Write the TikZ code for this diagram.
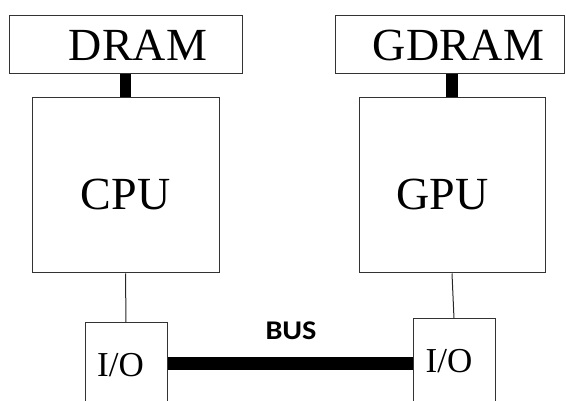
\documentclass[tikz,border=0pt]{standalone}
\usepackage{fontspec}
\setmainfont{Liberation Serif}
\newfontfamily\busfont{Carlito}
\usepackage{tikz}

\begin{document}
\begin{tikzpicture}[x=1pt,y=-1pt,
		box/.style={draw=black!80,line width=1pt,inner sep=0pt},
		membox/.style={box,minimum width=233pt,minimum height=58pt,font=\fontsize{46}{46}\selectfont},
		procbox/.style={box,minimum width=187pt,minimum height=175pt,text height=49pt,text depth=0pt,font=\fontsize{46}{46}\selectfont},
		iobox/.style={box,minimum width=82pt,minimum height=90pt,text height=17pt,text depth=0pt,font=\fontsize{35}{35}\selectfont},
		thin link/.style={draw=black!85,line width=1pt},
		thick link/.style={draw=black,line width=11pt}]
		\clip (0,0) rectangle (566,401);
		
		\node[membox] (dram) at (125.5,45){\hspace*{25pt}DRAM};
		\node[membox,minimum width=229pt] (gdram) at (449.5,45){\hspace*{18pt}GDRAM};
		
		\node[procbox] (cpu) at (125.5,185.5){CPU};
		\node[procbox,minimum width=186pt] (gpu) at (452,185.5){GPU\hspace*{19pt}};
		
		\node[iobox] (lio) at (126,368){I/O\hspace*{11pt}};
		\node[iobox] (rio) at (454,364){I/O\hspace*{10pt}};
		
		\draw[thick link] (dram.south) -- (cpu.north);
		\draw[thick link,line width=12pt] (gpu.north) -- (gpu.north |- gdram.south);
		
		\draw[thin link] (cpu.south) -- (lio.north);
		\draw[thin link] (gpu.south) -- (rio.north);
		
		\draw[thick link,line width=13pt] (lio.east |- 0,363.5) -- (rio.west |- 0,363.5);
		\node[font=\busfont\bfseries\fontsize{27}{27}\selectfont] (buslbl) at (291,331){\scalebox{1.12}[1]{BUS}};
	\end{tikzpicture}
\end{document}
